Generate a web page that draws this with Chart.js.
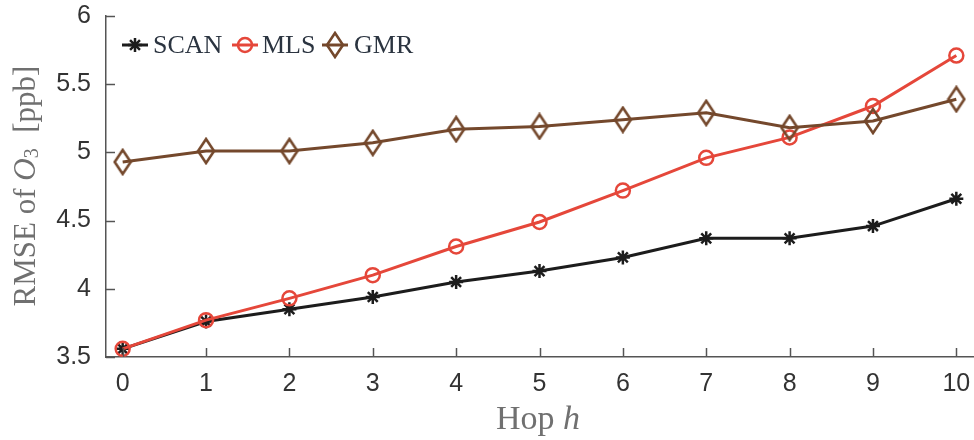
<!DOCTYPE html>
<html>
<head>
<meta charset="utf-8">
<script src="https://cdn.jsdelivr.net/npm/chart.js@4.4.0/dist/chart.umd.min.js"></script>
<style>
  html, body { margin: 0; padding: 0; background: #fff; }
  #wrap { width: 974px; height: 440px; position: relative; }
</style>
</head>
<body>
<div id="wrap"><canvas id="rmseChart" width="974" height="440"></canvas></div>
<script>
// hop count on the x axis
var hops = [0, 1, 2, 3, 4, 5, 6, 7, 8, 9, 10];
// RMSE of O3 in ppb
var scanRmse = [3.56, 3.76, 3.85, 3.94, 4.05, 4.13, 4.23, 4.37, 4.37, 4.46, 4.66];
var mlsRmse  = [3.56, 3.77, 3.93, 4.10, 4.31, 4.49, 4.72, 4.96, 5.11, 5.34, 5.71];
var gmrRmse  = [4.93, 5.01, 5.01, 5.07, 5.17, 5.19, 5.24, 5.29, 5.18, 5.23, 5.39];
var xTicks = [0, 1, 2, 3, 4, 5, 6, 7, 8, 9, 10];
var yTicks = [3.5, 4, 4.5, 5, 5.5, 6];

var colors = { scan: '#1c1c1c', mls: '#e5473a', gmr: '#74482c' };
var tickFont = { family: '"Liberation Sans", Arial, sans-serif', size: 25 };
var serif = '"Liberation Serif", "Times New Roman", serif';

function toPoints(vals) {
    return hops.map(function(h, i) { return { x: h, y: vals[i] }; });
}

// MATLAB diamond is taller than wide, so make a small canvas for it
function tallDiamond(color) {
    var cv = document.createElement('canvas');
    cv.width = 20; cv.height = 28;
    var g = cv.getContext('2d');
    g.strokeStyle = color;
    g.lineWidth = 2.6;
    g.lineJoin = 'miter';
    g.beginPath();
    g.moveTo(10, 2); g.lineTo(18, 14); g.lineTo(10, 26); g.lineTo(2, 14); g.closePath();
    g.stroke();
    return cv;
}
var gmrMarker = tallDiamond(colors.gmr);

// ticks drawn inward, legend and axis titles
var extras = {
    id: 'extras',
    afterDraw: function(chart) {
        var c = chart.ctx, xs = chart.scales.x, ys = chart.scales.y, a = chart.chartArea;
        c.save();
        c.strokeStyle = '#555';
        c.lineWidth = 1.5;
        xTicks.forEach(function(t) {
            var px = Math.round(xs.getPixelForValue(t)) + 0.5;
            c.beginPath(); c.moveTo(px, a.bottom); c.lineTo(px, a.bottom - 9); c.stroke();
        });
        yTicks.forEach(function(t) {
            var py = Math.round(ys.getPixelForValue(t)) + 0.5;
            c.beginPath(); c.moveTo(a.left, py); c.lineTo(a.left + 9, py); c.stroke();
        });

        // legend
        var items = [
            { label: 'SCAN', color: colors.scan, style: 'star', r: 7, x: 122, tx: 153 },
            { label: 'MLS', color: colors.mls, style: 'circle', r: 7, x: 232, tx: 262 },
            { label: 'GMR', color: colors.gmr, style: gmrMarker, r: 9, x: 322, tx: 354 }
        ];
        var ly = 45;
        c.textBaseline = 'middle';
        items.forEach(function(it) {
            c.strokeStyle = it.color;
            c.fillStyle = 'rgba(0,0,0,0)';
            c.lineWidth = 3;
            c.beginPath(); c.moveTo(it.x, ly); c.lineTo(it.x + 26, ly); c.stroke();
            c.lineWidth = 2.5;
            Chart.helpers.drawPoint(c, { pointStyle: it.style, radius: it.r, rotation: 0, borderWidth: 2.5 }, it.x + 13, ly);
            c.font = '26px ' + serif;
            c.fillStyle = '#2b3440';
            c.fillText(it.label, it.tx, ly + 1);
        });

        // y title: RMSE of O3 [ppb]
        c.fillStyle = '#707070';
        c.save();
        c.translate(27, 186);
        c.rotate(-Math.PI / 2);
        var parts = [
            { t: 'RMSE of ', f: '31px ' + serif, dy: 0 },
            { t: 'O', f: 'italic 31px ' + serif, dy: 0 },
            { t: '3', f: '20px ' + serif, dy: 6 },
            { t: '  [ppb]', f: '31px ' + serif, dy: 0 }
        ];
        var total = 0;
        parts.forEach(function(p) { c.font = p.f; total += c.measureText(p.t).width; });
        var cx = -total / 2;
        c.textBaseline = 'middle';
        parts.forEach(function(p) {
            c.font = p.f;
            c.fillText(p.t, cx, p.dy);
            cx += c.measureText(p.t).width;
        });
        c.restore();

        // x title: Hop h
        var xp = [
            { t: 'Hop ', f: '34px ' + serif },
            { t: 'h', f: 'italic 34px ' + serif }
        ];
        var w = 0;
        xp.forEach(function(p) { c.font = p.f; w += c.measureText(p.t).width; });
        var sx = 538 - w / 2;
        c.textBaseline = 'middle';
        xp.forEach(function(p) {
            c.font = p.f;
            c.fillText(p.t, sx, 420);
            sx += c.measureText(p.t).width;
        });
        c.restore();
    }
};

function makeSet(label, vals, color, style, radius) {
    return {
        label: label,
        data: toPoints(vals),
        borderColor: color,
        backgroundColor: 'rgba(0,0,0,0)',
        borderWidth: 3,
        pointStyle: style,
        pointRadius: radius,
        pointBorderWidth: 2.5,
        pointBorderColor: color,
        pointBackgroundColor: 'rgba(0,0,0,0)',
        tension: 0,
        clip: false
    };
}

var ctx = document.getElementById('rmseChart').getContext('2d');
var rmseChart = new Chart(ctx, {
    type: 'line',
    data: {
        datasets: [
            makeSet('GMR', gmrRmse, colors.gmr, gmrMarker, 9),
            makeSet('MLS', mlsRmse, colors.mls, 'circle', 7),
            makeSet('SCAN', scanRmse, colors.scan, 'star', 7)
        ]
    },
    options: {
        responsive: false,
        animation: false,
        layout: { autoPadding: false, padding: { top: 16, right: 1, left: 0, bottom: 0 } },
        plugins: { legend: { display: false }, tooltip: { enabled: false } },
        scales: {
            x: {
                type: 'linear',
                min: -0.2,
                max: 10.2,
                afterBuildTicks: function(axis) { axis.ticks = xTicks.map(function(v) { return { value: v }; }); },
                afterFit: function(axis) { axis.height = 83; axis.paddingLeft = 0; axis.paddingRight = 0; },
                // ticks themselves are drawn by the plugin; tickLength only spaces the labels
                grid: { display: false, drawTicks: true, tickLength: 12 },
                border: { display: true, color: '#555', width: 1.5 },
                ticks: { padding: 0, color: '#333', font: tickFont }
            },
            y: {
                min: 3.5,
                max: 6,
                afterBuildTicks: function(axis) { axis.ticks = yTicks.map(function(v) { return { value: v }; }); },
                afterFit: function(axis) { axis.width = 106; axis.paddingTop = 0; axis.paddingBottom = 0; },
                grid: { display: false, drawTicks: false },
                border: { display: true, color: '#555', width: 1.5 },
                ticks: {
                    padding: 15,
                    color: '#333',
                    font: tickFont,
                    callback: function(v) { return String(v); }
                }
            }
        }
    },
    plugins: [extras]
});
</script>
</body>
</html>
